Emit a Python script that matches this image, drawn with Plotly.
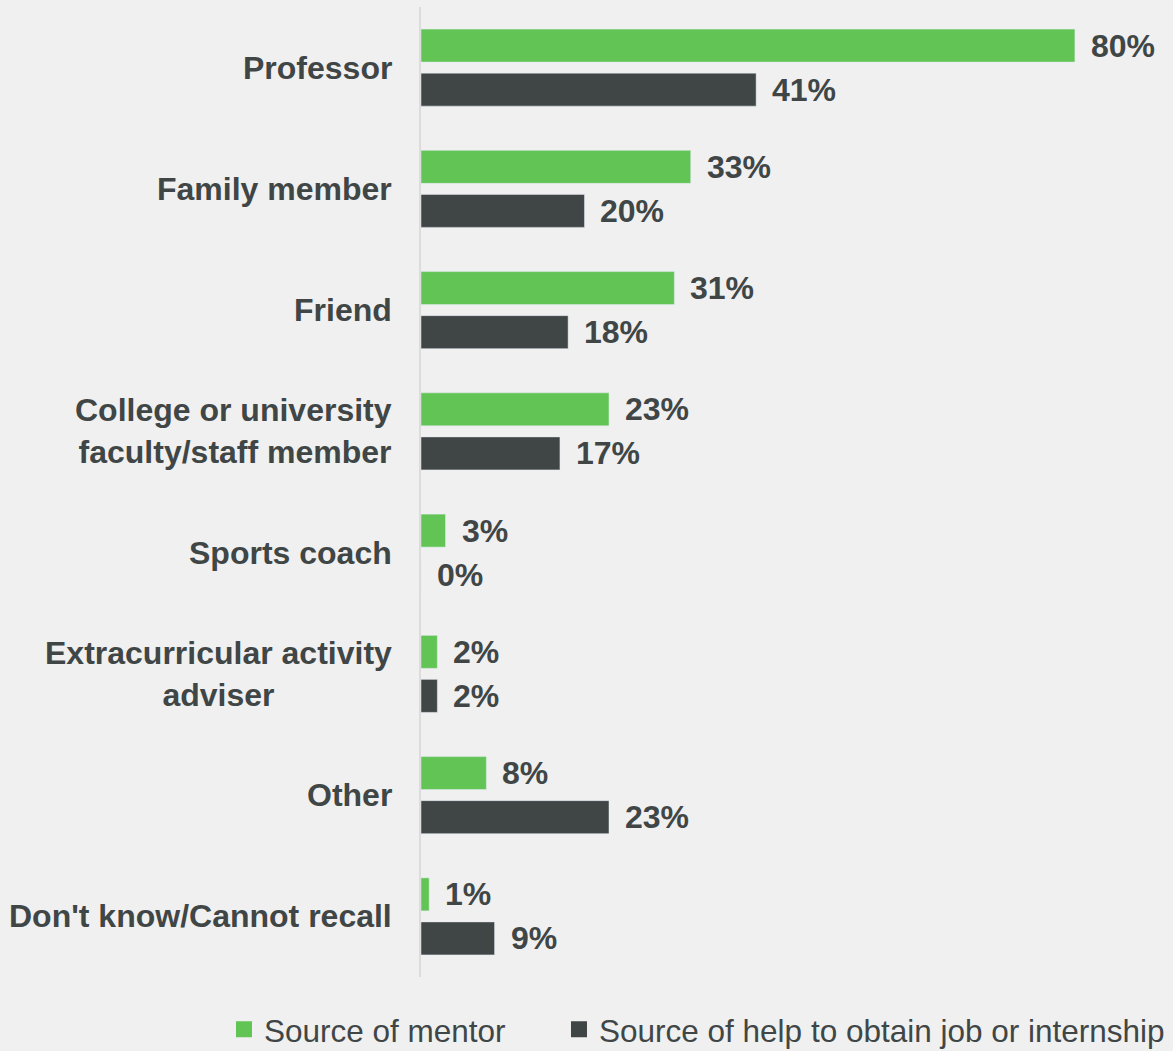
import plotly.graph_objects as go

categories = [
    "Professor",
    "Family member",
    "Friend",
    "College or university<br>faculty/staff member",
    "Sports coach",
    "Extracurricular activity<br>adviser",
    "Other",
    "Don't know/Cannot recall",
]
label_align = ["right", "right", "right", "right", "right", "center", "right", "right"]
mentor = [80, 33, 31, 23, 3, 2, 8, 1]
job_help = [41, 20, 18, 17, 0, 2, 23, 9]
series_names = ["Source of mentor", "Source of help to obtain job or internship"]

GREEN = "#62c454"
DARK = "#404646"
TEXT = "#404646"
BG = "#f0f0f0"
FONT = "Liberation Sans, Arial, sans-serif"
FS = 32
LFS = 31.5

fig = go.Figure()
fig.add_trace(go.Bar(y=categories, x=mentor, orientation="h", marker_color=GREEN,
                     name=series_names[0], showlegend=False))
fig.add_trace(go.Bar(y=categories, x=job_help, orientation="h", marker_color=DARK,
                     name=series_names[1], showlegend=False))
# legend entries (one legend each, so their positions can be set independently)
for nm, col, lg in zip(series_names, [GREEN, DARK], ["legend", "legend2"]):
    fig.add_trace(go.Scatter(x=[None], y=[None], mode="markers", name=nm, legend=lg,
                             marker=dict(symbol="square", size=16, color=col)))

ann = []
for c, v in zip(categories, mentor):
    ann.append(dict(x=v, y=c, xref="x", yref="y", text=f"{v}%", showarrow=False,
                    xanchor="left", xshift=14, yshift=22,
                    font=dict(family=FONT, size=FS, color=TEXT, weight="bold")))
for c, v in zip(categories, job_help):
    ann.append(dict(x=v, y=c, xref="x", yref="y", text=f"{v}%", showarrow=False,
                    xanchor="left", xshift=14, yshift=-22,
                    font=dict(family=FONT, size=FS, color=TEXT, weight="bold")))
for c, al in zip(categories, label_align):
    ann.append(dict(x=0, y=c, xref="paper", yref="y", text=c, showarrow=False,
                    xanchor="right", xshift=-27, align=al,
                    font=dict(family=FONT, size=FS, color=TEXT, weight="bold")))

legend_common = dict(orientation="h", yanchor="middle", y=-0.054, xanchor="left",
                     font=dict(family=FONT, size=LFS, color=TEXT),
                     bgcolor="rgba(0,0,0,0)")

fig.update_layout(
    width=1173, height=1051,
    paper_bgcolor=BG, plot_bgcolor=BG,
    margin=dict(l=421, r=0, t=7, b=74, autoexpand=False),
    barmode="group", bargap=0.274, bargroupgap=0.25,
    annotations=ann,
    font=dict(family=FONT, color=TEXT),
    xaxis=dict(range=[0, 92], visible=False, fixedrange=True),
    yaxis=dict(autorange="reversed", showticklabels=False, showgrid=False,
               zeroline=False, showline=True, linecolor="#dcdcdc", linewidth=2,
               ticks=""),
    legend=dict(x=-0.2620, **legend_common),
    legend2=dict(x=0.1835, **legend_common),
    showlegend=True,
)

fig.write_html("out.html", config={"displayModeBar": False},
               post_script="document.body.style.margin='0';document.body.style.padding='0';document.body.style.overflow='hidden';")
